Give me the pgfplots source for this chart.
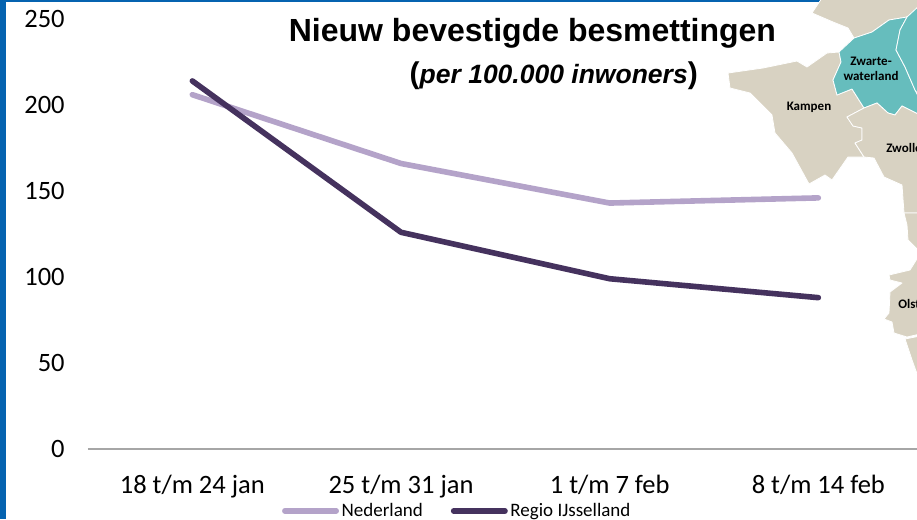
\documentclass[border=0pt]{standalone}
\usepackage{pgfplots}
\pgfplotsset{compat=1.18}
\usepackage{fontspec}
\setmainfont{Carlito}
\newfontfamily\arialf{Liberation Sans}
\definecolor{stripe}{HTML}{0563B0}
\definecolor{beige}{HTML}{D8D2C2}
\definecolor{teal2}{HTML}{66BDBD}
\definecolor{nl}{HTML}{B4A3C9}
\definecolor{ijs}{HTML}{45325E}
\definecolor{axisgray}{HTML}{A6A6A6}
\newcommand{\pxfont}[1]{\fontsize{\dimexpr #1pt*3/4\relax}{\dimexpr #1pt*9/10\relax}\selectfont}
\begin{document}
\begin{tikzpicture}
\clip (0,0) rectangle (687.75pt,-389.25pt);
\fill[white] (0,0) rectangle (687.75pt,-389.25pt);
\begin{scope}[x=0.75pt,y=-0.75pt]
\fill[stripe] (0,0) rectangle (6,519);
\fill[stripe] (0,0) rectangle (820,2);
% map
\begin{scope}[draw=white,line width=0.6pt,line join=round]
\filldraw[fill=beige] (812,13)--(822,-2)--(920,-2)--(920,6)--(907,17)--(889,20)--(872,32)--(854,38)--(848,28)--(833,22)--cycle;
\filldraw[fill=beige] (728,73)--(763,68)--(797,61)--(807,67)--(827,53)--(839,52)--(841,62)--(833,80)--(837,95)--(852,89)--(864,108)--(847,117)--(853,126)--(862,128)--(862,140)--(855,143)--(864,157)--(848,157)--(832,180)--(825,175)--(809,184)--(792,153)--(775,133)--(772,115)--(750,93)--(730,88)--cycle;
\filldraw[fill=teal2] (839,52)--(854,38)--(872,32)--(889,20)--(907,17)--(900,30)--(896,50)--(905,67)--(915,90)--(920,100)--(920,115)--(902,106)--(895,115)--(888,113)--(877,103)--(864,108)--(852,89)--(837,95)--(833,80)--(841,62)--cycle;
\filldraw[fill=teal2] (907,17)--(920,5)--(920,97)--(915,90)--(905,67)--(896,50)--(900,30)--cycle;
\filldraw[fill=beige] (847,117)--(864,108)--(877,103)--(888,113)--(895,115)--(902,106)--(920,115)--(920,213)--(904,213)--(902,185)--(884,177)--(874,158)--(864,157)--(855,143)--(862,140)--(862,128)--(853,126)--cycle;
\filldraw[fill=beige] (904,213)--(920,213)--(920,252)--(908,240)--(907,225)--cycle;
\filldraw[fill=beige] (920,254)--(910,270)--(889,275)--(890,280)--(902,283)--(890,292)--(889,313)--(884,319)--(892,322)--(894,333)--(907,337)--(920,334)--cycle;
\filldraw[fill=beige] (905,339)--(920,336)--(920,382)--(912,360)--cycle;
\end{scope}
\node[font=\bfseries\pxfont{13}] at (871,61) {Zwarte-};
\node[font=\bfseries\pxfont{13}] at (871,76) {waterland};
\node[font=\bfseries\pxfont{13}] at (809,107) {Kampen};
\node[font=\bfseries\pxfont{13},anchor=west,inner sep=0pt] at (886,148) {Zwolle};
\node[font=\bfseries\pxfont{13},anchor=west,inner sep=0pt] at (898,304) {Olst};
\end{scope}
\begin{axis}[
  at={(66pt,-336.75pt)}, anchor=south west,
  scale only axis, width=626pt, height=322.5pt,
  xmin=-0.5, xmax=3.5, ymin=0, ymax=250,
  axis x line=bottom, axis y line=left,
  x axis line style={axisgray,line width=1.3pt,-},
  y axis line style={draw=none},
  xtick={0,1,2,3},
  xticklabels={18 t/m 24 jan,25 t/m 31 jan,1 t/m 7 feb,8 t/m 14 feb},
  ytick={0,50,100,150,200,250},
  tick style={draw=none},
  major tick length=0pt,
  clip=false,
  x tick label style={font=\pxfont{26.5}, yshift=-16pt},
  y tick label style={font=\pxfont{26.5}, xshift=-14pt},
  /pgf/number format/assume math mode=true,
  title={\arialf\bfseries Nieuw bevestigde besmettingen},
  title style={font=\pxfont{32}, at={(0.5325,0.947)}, anchor=center, inner sep=0pt},
  legend columns=2,
  legend style={draw=none, fill=none, at={(0.2325,-0.12)}, anchor=north west, inner sep=0pt, outer sep=0pt, font=\pxfont{19}, /tikz/every even column/.append style={column sep=19pt}},
  legend cell align=left,
  legend image code/.code={\draw[#1] (0pt,0pt) -- (38.5pt,0pt);},
  every axis plot/.append style={line width=4.2pt, line cap=round, line join=round, mark=none},
]
\addplot[nl] coordinates {(0,206) (1,166) (2,143) (3,146)};
\addlegendentry{Nederland}
\addplot[ijs] coordinates {(0,214) (1,126) (2,99) (3,88)};
\addlegendentry{Regio IJsselland}
\node[font=\arialf\bfseries\pxfont{30},anchor=center,inner sep=0pt] at (rel axis cs:0.558,0.868) {(\textit{\pxfont{26.5}per 100.000 inwoners})};
\end{axis}
\end{tikzpicture}
\end{document}
